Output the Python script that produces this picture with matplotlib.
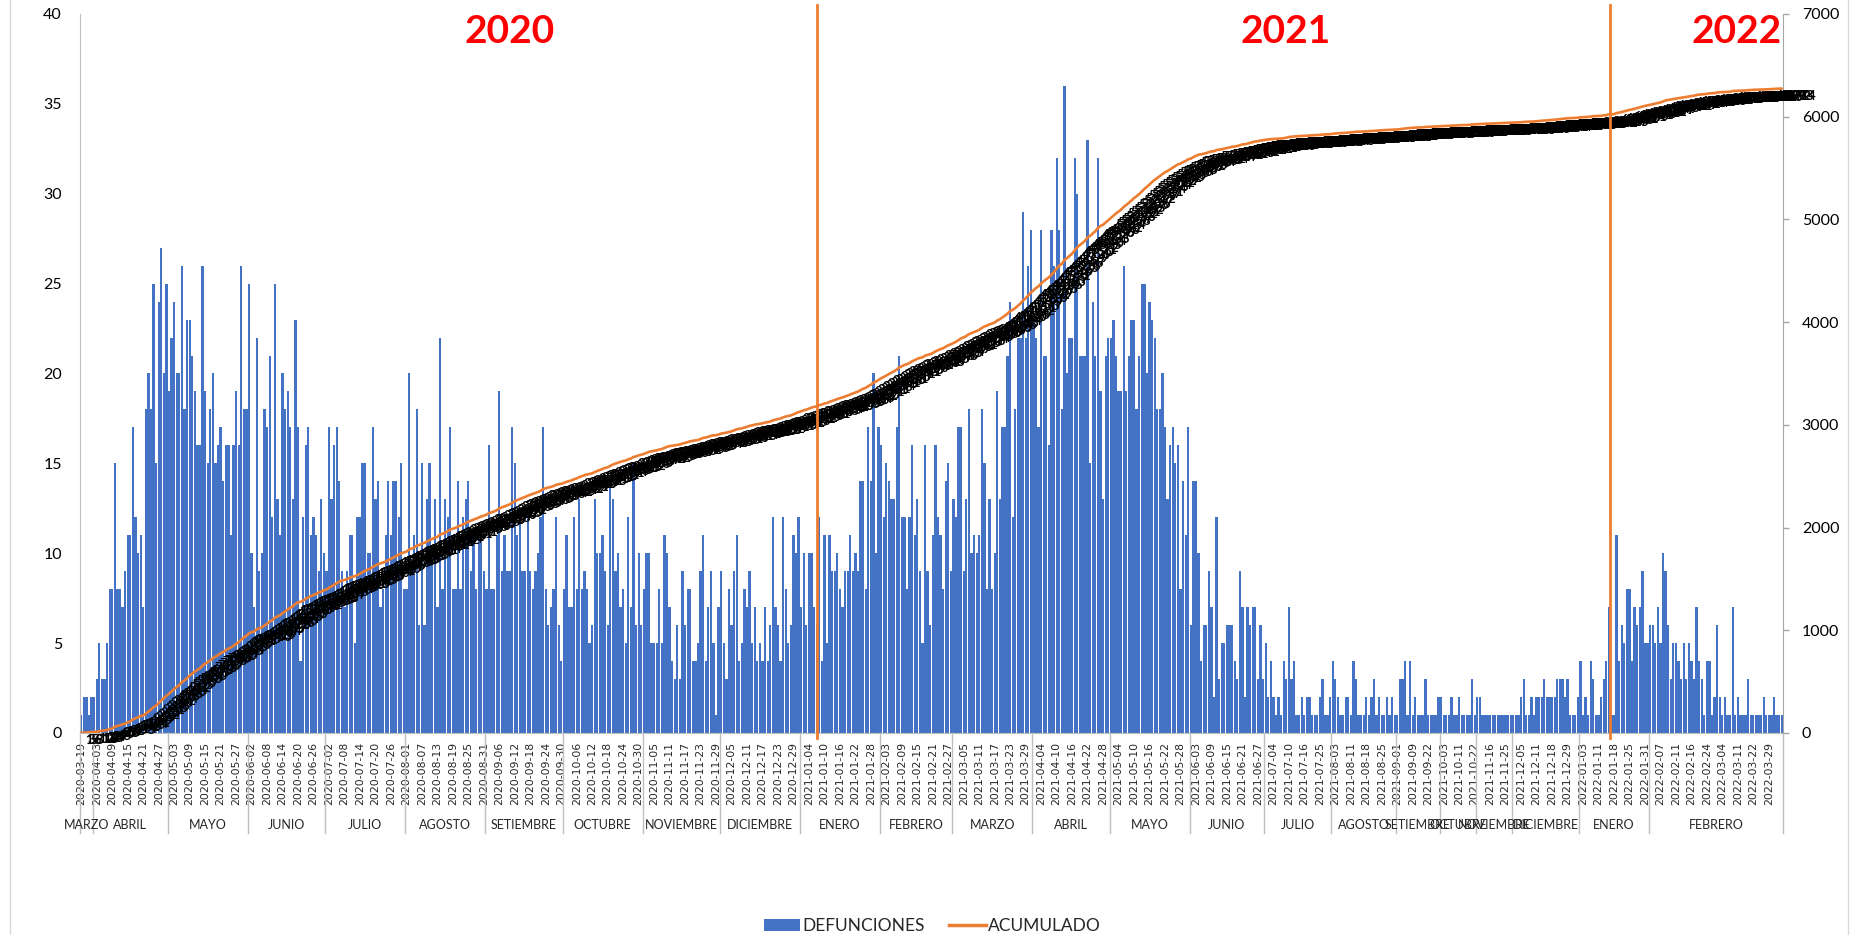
import matplotlib
matplotlib.use("Agg")
import matplotlib.pyplot as plt
import numpy as np
from matplotlib import transforms
from matplotlib.lines import Line2D
from matplotlib.patches import Patch

# ---------------- DATA ----------------
# daily deaths (DEFUNCIONES), one value per category (dates with records)
deaths_part1 = [
    1, 2, 2, 1, 2, 2, 3, 5, 3, 3,
    5, 8, 8, 15, 8, 8, 7, 9, 11, 11,
    17, 12, 10, 11, 7, 18, 20, 18, 25, 15,
    24, 27, 20, 25, 19, 22, 24, 20, 20, 26,
    18, 23, 23, 21, 19, 16, 16, 26, 19, 15,
    18, 20, 15, 16, 17, 14, 16, 16, 11, 16,
    19, 16, 26, 18, 18, 25, 10, 7, 22, 9,
    10, 18, 17, 21, 12, 25, 13, 11, 20, 18,
    19, 17, 13, 23, 17, 4, 12, 16, 17, 11,
    12, 11, 9, 13, 10, 9, 17, 13, 16, 17,
    14, 9, 7, 9, 11, 11, 5, 12, 12, 15,
    15, 10, 10, 17, 13, 14, 7, 8, 11, 14,
    11, 14, 14, 12, 15, 8, 8, 20, 9, 11,
    18, 6, 15, 6, 13, 15, 10, 13, 7, 22,
    8, 13, 12, 17, 8, 8, 14, 8, 12, 13,
    14, 9, 11, 8, 11, 11, 9, 8, 16, 8,
    8, 11, 19, 9, 11, 9, 9, 17, 15, 11,
    12, 9, 9, 12, 9, 8, 9, 10, 12, 17,
    8, 6, 7, 8, 12, 6, 4, 8, 11, 7,
    7, 12, 8, 13, 8, 9, 8, 5, 6, 13,
    10, 10, 11, 9, 6, 14, 13, 9, 10, 7,
    8, 5, 12, 7, 15, 6, 10, 6, 8, 10,
    10, 5, 5, 5, 8, 5, 11, 10, 7, 4,
    3, 6, 3, 9, 6, 8, 8, 4, 4, 5,
    9, 11, 4, 7, 9, 5, 1, 7, 9, 5,
    3, 8, 6, 9, 11, 4, 5, 8, 7, 9,
    5, 7, 4, 5, 4, 7, 4, 6, 12, 7,
    6, 4, 12, 8, 5, 6, 11, 10, 12, 7,
]
deaths_part2 = [
    10, 6, 10, 10, 7, 6, 12, 4, 11, 5,
    11, 9, 9, 10, 8, 7, 9, 9, 11, 9,
    10, 9, 14, 14, 8, 17, 14, 20, 10, 17,
    16, 12, 15, 14, 13, 13, 17, 21, 12, 12,
    8, 12, 16, 11, 13, 9, 5, 16, 9, 6,
    11, 16, 12, 11, 8, 14, 15, 9, 13, 12,
    17, 17, 9, 13, 18, 10, 11, 10, 11, 18,
    15, 8, 13, 8, 10, 19, 13, 17, 17, 21,
    24, 12, 18, 22, 22, 29, 22, 26, 28, 23,
    22, 17, 28, 21, 21, 16, 28, 26, 32, 28,
    18, 36, 20, 22, 22, 32, 30, 21, 21, 21,
    33, 15, 24, 21, 32, 19, 13, 21, 22, 22,
    23, 21, 19, 19, 26, 19, 21, 23, 23, 18,
    21, 25, 25, 20, 24, 23, 22, 18, 18, 20,
    17, 13, 16, 17, 15, 16, 8, 14, 11, 17,
    6, 14, 14, 10, 4, 6, 6, 9, 7, 2,
    12, 3, 5, 5, 6, 6, 6, 4, 3, 9,
    7, 2, 7, 6, 7, 7, 3, 6, 3, 5,
    2, 4, 2, 1, 2, 1, 4, 3, 7, 3,
    4, 1, 1, 2, 1, 2, 2, 1, 1, 1,
    2, 3, 1, 1, 2, 4, 3, 2, 1, 1,
    2, 2, 1, 4, 3, 1, 1, 1, 2, 1,
    2, 3, 1, 2, 1, 1, 2, 1, 2, 1,
    1, 3, 3, 4, 1, 4, 1, 2, 1, 1,
    1, 3, 1, 1, 1, 1, 2, 2, 1, 1,
    1, 2, 1, 1, 2, 1, 1, 1, 1, 3,
    1, 2, 2, 1, 1, 1, 1, 1, 1, 1,
    1, 1, 1, 1, 1, 1, 1, 1, 2, 3,
    1, 1, 2, 1, 2, 2, 2, 3, 2, 2,
    2, 2, 3, 3, 3, 2, 3, 1, 1, 1,
]
deaths_part3 = [
    2, 4, 1, 2, 1, 4, 3, 1, 1, 2,
    3, 4, 7, 1, 1, 11, 4, 6, 5, 8,
    8, 4, 7, 6, 7, 9, 5, 5, 6, 6,
    5, 7, 5, 10, 9, 6, 3, 5, 5, 4,
    3, 5, 3, 5, 4, 3, 7, 4, 3, 1,
    4, 4, 1, 2, 6, 2, 1, 2, 1, 1,
    7, 1, 2, 1, 1, 1, 3, 1, 1, 1,
    1, 1, 2, 1, 1, 1, 2, 1, 1, 1,
]

tick_labels_2020 = [
    "2020-03-19", "2020-04-03", "2020-04-09", "2020-04-15", "2020-04-21", "2020-04-27",
    "2020-05-03", "2020-05-09", "2020-05-15", "2020-05-21", "2020-05-27", "2020-06-02",
    "2020-06-08", "2020-06-14", "2020-06-20", "2020-06-26", "2020-07-02", "2020-07-08",
    "2020-07-14", "2020-07-20", "2020-07-26", "2020-08-01", "2020-08-07", "2020-08-13",
    "2020-08-19", "2020-08-25", "2020-08-31", "2020-09-06", "2020-09-12", "2020-09-18",
    "2020-09-24", "2020-09-30", "2020-10-06", "2020-10-12", "2020-10-18", "2020-10-24",
    "2020-10-30", "2020-11-05", "2020-11-11", "2020-11-17", "2020-11-23", "2020-11-29",
    "2020-12-05", "2020-12-11", "2020-12-17", "2020-12-23", "2020-12-29",
]
tick_labels_2021 = [
    "2021-01-04", "2021-01-10", "2021-01-16", "2021-01-22", "2021-01-28", "2021-02-03",
    "2021-02-09", "2021-02-15", "2021-02-21", "2021-02-27", "2021-03-05", "2021-03-11",
    "2021-03-17", "2021-03-23", "2021-03-29", "2021-04-04", "2021-04-10", "2021-04-16",
    "2021-04-22", "2021-04-28", "2021-05-04", "2021-05-10", "2021-05-16", "2021-05-22",
    "2021-05-28", "2021-06-03", "2021-06-09", "2021-06-15", "2021-06-21", "2021-06-27",
    "2021-07-04", "2021-07-10", "2021-07-16", "2021-07-25", "2021-08-03", "2021-08-11",
    "2021-08-18", "2021-08-25", "2021-09-01", "2021-09-09", "2021-09-22", "2021-10-03",
    "2021-10-11", "2021-10-22", "2021-11-16", "2021-11-25", "2021-12-05", "2021-12-11",
    "2021-12-18", "2021-12-29",
]
tick_labels_2022 = [
    "2022-01-03", "2022-01-11", "2022-01-18", "2022-01-25", "2022-01-31", "2022-02-07",
    "2022-02-11", "2022-02-16", "2022-02-24", "2022-03-04", "2022-03-11", "2022-03-22",
    "2022-03-29",
]

month_names = ["MARZO", "ABRIL", "MAYO", "JUNIO", "JULIO", "AGOSTO", "SETIEMBRE",
               "OCTUBRE", "NOVIEMBRE", "DICIEMBRE", "ENERO", "FEBRERO", "MARZO",
               "ABRIL", "MAYO", "JUNIO", "JULIO", "AGOSTO", "SETIEMBRE", "OCTUBRE",
               "NOVIEMBRE", "DICIEMBRE", "ENERO", "FEBRERO"]
# first category index of each month group
month_start = [0, 5, 34, 65, 95, 126, 157, 187, 218, 248, 279, 310, 338,
               369, 399, 430, 459, 485, 510, 527, 541, 555, 581, 608]

years = ["2020", "2021", "2022"]

# ---------------- PLOT ----------------
plt.rcParams["font.family"] = ["Lato", "DejaVu Sans"]
NARROW = ["Liberation Sans Narrow", "Lato", "DejaVu Sans"]

deaths = np.array(deaths_part1 + deaths_part2 + deaths_part3)
tick_labels = tick_labels_2020 + tick_labels_2021 + tick_labels_2022
n = len(deaths)
x = np.arange(n)
cum = np.cumsum(deaths)

W, H = 1850, 935
fig = plt.figure(figsize=(W / 100, H / 100), dpi=100)
ax = fig.add_axes([80 / W, 1 - 733 / H, 1703 / W, 719 / H])

BLUE = "#4472C4"
ORANGE = "#ED7D31"
GREY = "#BFBFBF"

ax.bar(x, deaths, width=0.88, color=BLUE, linewidth=0, zorder=2)
ax.set_xlim(-0.5, n - 0.5)
ax.set_ylim(0, 40)
ax.set_yticks(range(0, 41, 5))
ax.tick_params(axis="y", length=0, pad=13, labelsize=11.5, labelcolor="black")
ax.set_xticks(np.arange(len(tick_labels)) * 6)
ax.set_xticklabels(tick_labels, rotation=90, fontsize=7.8,
                   family="DejaVu Sans", color="#262626")
ax.tick_params(axis="x", length=0, pad=6.5)
for s in ["top", "right"]:
    ax.spines[s].set_visible(False)
ax.spines["left"].set_color(GREY)
ax.spines["bottom"].set_color(GREY)

# month group labels and separators
blend = transforms.blended_transform_factory(ax.transData, ax.transAxes)
bounds = month_start + [n]
for i, name in enumerate(month_names):
    a, b = bounds[i] - 0.5, bounds[i + 1] - 0.5
    ax.text((a + b) / 2, -0.128, name, transform=blend, ha="center", va="center",
            fontsize=9, family=NARROW, color="#262626")
for bnd in bounds:
    ax.add_line(Line2D([bnd - 0.5, bnd - 0.5], [0, -0.139], transform=blend,
                       color=GREY, lw=1, clip_on=False))

# cumulative on secondary axis
ax2 = ax.twinx()
ax2.set_ylim(0, 7000)
ax2.set_yticks(range(0, 7001, 1000))
ax2.tick_params(axis="y", length=4, width=1, color="#A6A6A6", pad=9.5,
                labelsize=11.5, labelcolor="black")
for s in ["top", "left", "bottom"]:
    ax2.spines[s].set_visible(False)
ax2.spines["right"].set_color("#A6A6A6")
ax2.plot(x, cum, color=ORANGE, lw=1.9, zorder=3, solid_capstyle="round")

# data labels of the cumulative series (they pile up into a dark band)
off = transforms.offset_copy(ax2.transData, fig=fig, x=3, y=-1, units="points")
for xi, ci in zip(x, cum):
    ax2.text(xi, ci, str(int(ci)), transform=off, fontsize=9.5, fontweight="bold",
             ha="left", va="top", color="black", clip_on=False, zorder=4)

# year separators and labels
for xv in (285, 592.5):
    ax2.axvline(xv, ymin=-0.007, ymax=1.013, color=ORANGE, lw=2, clip_on=False, zorder=5)
for yr, fx in zip(years, (0.252, 0.708, 0.973)):
    ax2.text(fx, 0.976, yr, transform=ax2.transAxes, ha="center", va="center",
             color="#FF0000", fontsize=28, fontweight="bold", family=NARROW, zorder=6)

# legend
handles = [Patch(facecolor=BLUE, edgecolor="none"), Line2D([0], [0], color=ORANGE, lw=2.5)]
fig.legend(handles, ["DEFUNCIONES", "ACUMULADO"], loc="center",
           bbox_to_anchor=(0.504, 1 - 926 / H), ncol=2, frameon=False,
           prop={"family": NARROW, "size": 12.5}, handlelength=2.1, handleheight=0.7,
           handletextpad=0.15, columnspacing=1.4, labelcolor="#262626")

# thin frame lines at the picture edges
fig.add_artist(Line2D([10 / W, 10 / W], [0, 1], color="#D9D9D9", lw=1))
fig.add_artist(Line2D([1848 / W, 1848 / W], [0, 1], color="#D9D9D9", lw=1))

fig.savefig("out.png", dpi=100)
